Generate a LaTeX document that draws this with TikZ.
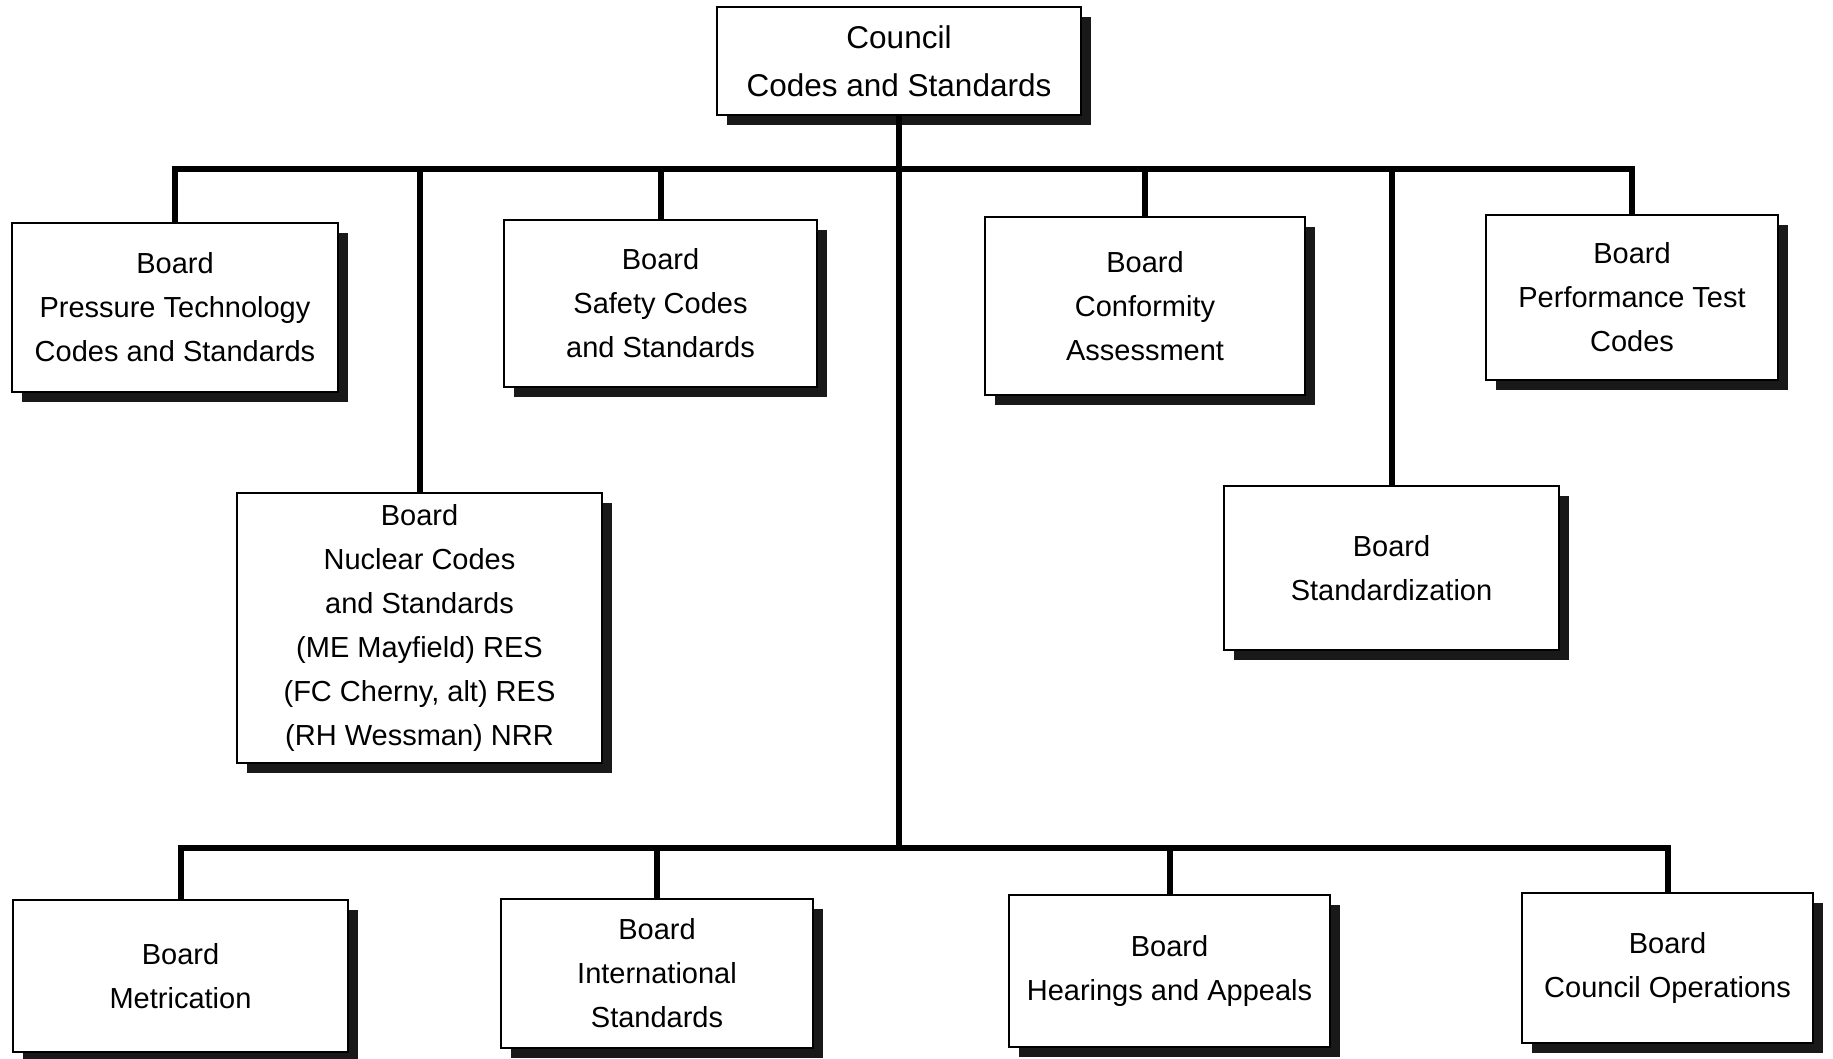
\documentclass[tikz,border=0pt]{standalone}
\usepackage{fontspec}
\setmainfont{Liberation Sans}
\usetikzlibrary{shadows}
\begin{document}
\begin{tikzpicture}[x=1pt,y=1pt,
  box/.style={draw=black, line width=1.5pt, fill=white, rectangle, inner sep=0pt, align=center,
    font=\fontsize{29}{44}\selectfont,
    general shadow={fill=black!90, shadow xshift=10pt, shadow yshift=-10pt}},
  bus/.style={line width=6pt}]
\useasboundingbox[fill=white] (0,0) rectangle (1833,-1058);
% boxes
\node[box, minimum width=364pt, minimum height=108pt, font=\fontsize{31.5}{48}\selectfont] (council) at (899,-61) {Council\\Codes and Standards};
\node[box, minimum width=326pt, minimum height=169pt] (pressure) at (175,-307.5) {Board\\Pressure Technology\\Codes and Standards};
\node[box, minimum width=313pt, minimum height=167pt] (safety) at (660.5,-303.5) {Board\\Safety Codes\\and Standards};
\node[box, minimum width=320pt, minimum height=178pt] (conformity) at (1145,-306) {Board\\Conformity\\Assessment};
\node[box, minimum width=292pt, minimum height=165pt] (performance) at (1632,-297.5) {Board\\Performance Test\\Codes};
\node[box, minimum width=365pt, minimum height=270pt] (nuclear) at (419.5,-628) {Board\\Nuclear Codes\\and Standards\\(ME Mayfield) RES\\(FC Cherny, alt) RES\\(RH Wessman) NRR};
\node[box, minimum width=335pt, minimum height=164pt] (standard) at (1391.5,-568) {Board\\Standardization};
\node[box, minimum width=335pt, minimum height=152pt] (metric) at (180.5,-976) {Board\\Metrication};
\node[box, minimum width=312pt, minimum height=149pt] (intl) at (657,-973.5) {Board\\International\\Standards};
\node[box, minimum width=321pt, minimum height=152pt] (hearings) at (1169.5,-971) {Board\\Hearings and Appeals};
\node[box, minimum width=291pt, minimum height=150pt] (ops) at (1667.5,-968) {Board\\Council Operations};
% connectors
\coordinate (tb) at (899,-169);
\coordinate (bb) at (899,-848);
\draw[bus] (council.south) -- (bb);
\draw[bus] (pressure.north) |- (tb);
\draw[bus] (performance.north) |- (tb);
\draw[bus] (nuclear.north) |- (tb);
\draw[bus] (safety.north) |- (tb);
\draw[bus] (conformity.north) |- (tb);
\draw[bus] (standard.north) |- (tb);
\draw[bus] (metric.north) |- (bb);
\draw[bus] (ops.north) |- (bb);
\draw[bus] (intl.north) |- (bb);
\draw[bus] (hearings.north) |- (bb);
\end{tikzpicture}
\end{document}
